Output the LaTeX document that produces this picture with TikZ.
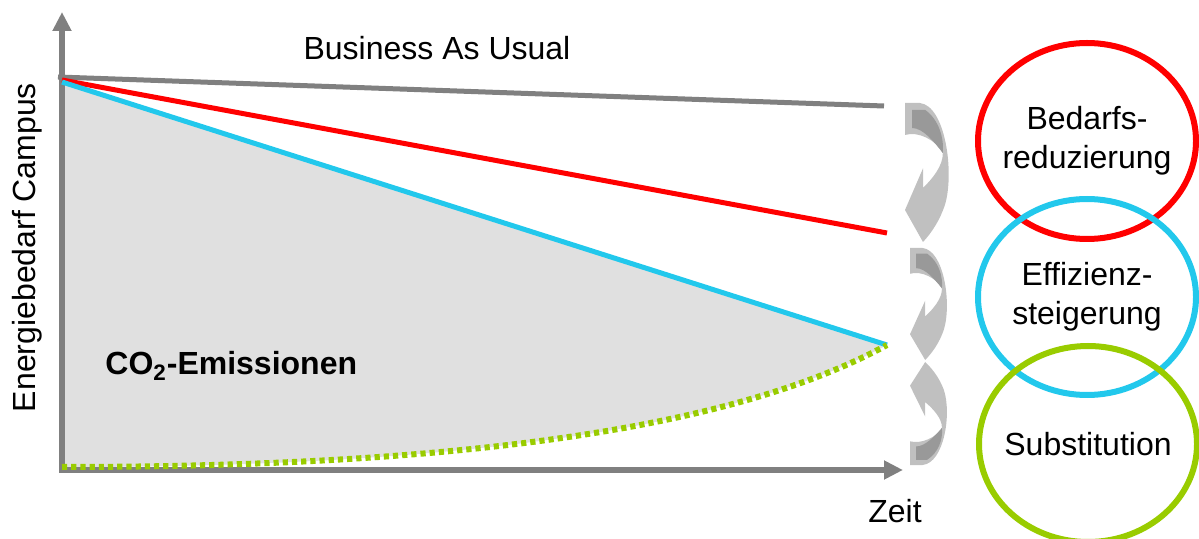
\documentclass[tikz,border=0pt]{standalone}
\usepackage{fontspec}
\setmainfont{Liberation Sans}
\usetikzlibrary{arrows.meta}
\definecolor{axisgray}{RGB}{128,128,128}
\definecolor{bauline}{RGB}{128,128,128}
\definecolor{redline}{RGB}{255,0,0}
\definecolor{cyanline}{RGB}{34,200,236}
\definecolor{greenline}{RGB}{153,204,0}
\definecolor{areafill}{RGB}{224,224,224}
\definecolor{curllight}{RGB}{192,192,192}
\definecolor{curldark}{RGB}{153,153,153}

\tikzset{
    axis/.style={line width=3pt, axisgray, line join=miter, {Triangle[width=9pt,length=9.5pt]}-{Triangle[width=9pt,length=9.5pt]}},
    trend/.style={line width=2.5pt},
    label/.style={font=\fontsize{16}{19.5}\selectfont, inner sep=0pt},
    lever/.style={label, align=center},
    ring/.style={line width=3pt}
}

\begin{document}
\begin{tikzpicture}[x=0.5pt, y=-0.5pt]
    \useasboundingbox (0,0) rectangle (1199,539);

    % Axis points
    \coordinate (O) at (62,470);
    \coordinate (ytip) at (62,12);
    \coordinate (xtip) at (903,470);
    \coordinate (bau0) at (58,77);
    \coordinate (bau1) at (884,106);
    \coordinate (red0) at (62,80);
    \coordinate (red1) at (887,233);
    \coordinate (eff0) at (62,82);
    \coordinate (eff1) at (887,345);
    \coordinate (sub0) at (62,467);

    % Emission area under the efficiency line
    \fill[areafill] (eff0) -- (eff1) .. controls (750,420) and (500,467) .. (sub0) -- cycle;

    % Axes
    \draw[axis] (ytip) -- (O) -- (xtip);

    % Trend lines
    \draw[trend, bauline] (bau0) -- (bau1);
    \draw[trend, redline] (red0) -- (red1);
    \draw[trend, cyanline] (eff0) -- (eff1);
    \draw[trend, greenline, line width=3pt, dash pattern=on 2.6pt off 2pt]
         (sub0) .. controls (500,467) and (750,420) .. (eff1);

    % Labels
    \node[label, anchor=base] (bau) at (437,60) {Business As Usual};
    \node[label, anchor=base west, font=\fontsize{16}{19.5}\selectfont\bfseries] (co2) at (105,375)
         {CO\textsubscript{2}-Emissionen};
    \node[label, anchor=base] (zeit) at (895,522) {Zeit};
    \node[label, anchor=base, rotate=90] (ylab) at (35,247.5) {Energiebedarf Campus};

    % Curled arrows between the levers
    \foreach \ax/\ay/\sx/\sy in {905/103/45/139, 910/248/38/112, 910/465/38/-103} {
        \begin{scope}[shift={(\ax,\ay)}, xscale=\sx, yscale=\sy]
            \fill[curllight] (0,0) -- (0.33,0) .. controls (0.9,0.02) and (1.1,0.5) .. (0.89,0.73)
                 .. controls (0.78,0.84) and (0.6,0.93) .. (0.4,1) -- (0,0.77) -- (0.4,0.47) -- (0.4,0.61)
                 .. controls (0.6,0.55) and (0.85,0.45) .. (0.84,0.36)
                 .. controls (0.7,0.27) and (0.3,0.2) .. (0,0.23) -- cycle;
            \fill[curldark] (0.16,0.05) -- (0.45,0.05) .. controls (0.75,0.12) and (0.87,0.25) .. (0.84,0.36)
                 .. controls (0.65,0.28) and (0.4,0.18) .. (0.16,0.18) -- cycle;
        \end{scope}
    }

    % Levers
    \node[lever] (bedarf) at (1087,141) {Bedarfs-\\reduzierung};
    \node[lever] (effizienz) at (1087,297) {Effizienz-\\steigerung};
    \node[lever] (subst) at (1088,444) {Substitution};
    \draw[ring, redline] (bedarf.center) ellipse [x radius=109, y radius=98];
    \draw[ring, cyanline] (effizienz.center) ellipse [x radius=109, y radius=98];
    \draw[ring, greenline] (subst.center) ellipse [x radius=109, y radius=98];
\end{tikzpicture}
\end{document}
